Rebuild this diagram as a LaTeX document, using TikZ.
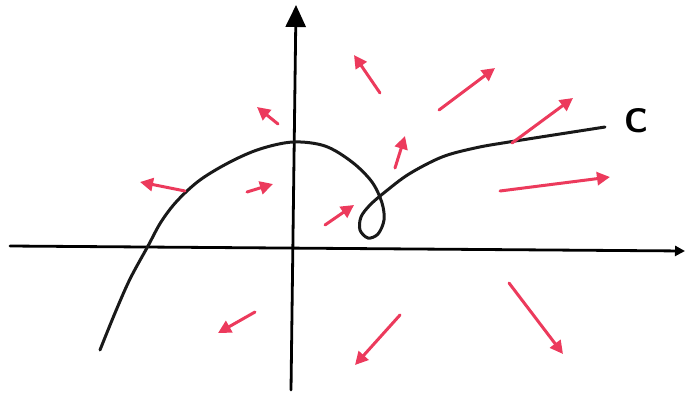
\documentclass[tikz,border=0pt]{standalone}
\usetikzlibrary{arrows.meta}
\definecolor{penred}{RGB}{236,58,92}
\begin{document}
\begin{tikzpicture}[x=1pt,y=-1pt,
  axis/.style={line width=2.8pt,black,line cap=round},
  field/.style={line width=3pt,penred,line cap=round,-{Triangle[length=13pt,width=13pt]}},
  curvestyle/.style={line width=3pt,black!90,line cap=round}]
\useasboundingbox (0,0) rectangle (685,397);
% axes
\coordinate (xl) at (10,246);
\coordinate (xr) at (685,251);
\coordinate (yb) at (291,390);
\coordinate (yt) at (296,5);
\draw[axis,-{Triangle[length=10pt,width=10pt]}] (xl) -- (xr);
\draw[axis,-{Triangle[length=22pt,width=20pt]}] (yb) -- (yt);
% curve C
\draw[curvestyle] plot[smooth,tension=0.55] coordinates {
 (100,350) (115,313) (130,279) (148,246) (161,222) (177,201) (200,180)
 (230,162) (260,149) (293,142)
 (325,146) (352,162) (372,182) (382,203) (384,220) (378,234) (368,238)
 (360,230) (361,217) (370,205) (385,192) (409,174) (442,157) (475,148) (509,142) (605,127)};
\node[font=\sffamily\bfseries\fontsize{34}{34}\selectfont] (clabel) at (636,121) {C};
% vector field arrows
\foreach \i/\ax/\ay/\bx/\by in {
  1/278/124/257/107, 2/185/191/140/182, 3/247/192/273/184,
  4/380/93/354/55, 5/439/110/495/68, 6/512/143/573/98,
  7/395/168/405/136, 8/500/191/610/177, 9/325/225/354/205,
  10/255/312/218/333, 11/400/315/355/365, 12/509/283/563/354}{
  \coordinate (t\i) at (\ax,\ay);
  \coordinate (h\i) at (\bx,\by);
  \draw[field] (t\i) -- (h\i);
}
\end{tikzpicture}
\end{document}
